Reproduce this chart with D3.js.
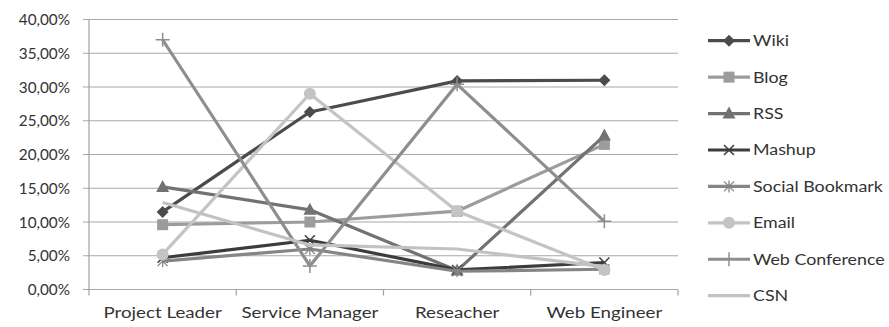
<!DOCTYPE html>
<html>
<head>
<meta charset="utf-8">
<script src="https://cdn.jsdelivr.net/npm/d3@7"></script>
<style>
  html, body { margin: 0; padding: 0; background: #fff; }
  svg { display: block; }
  text { font-family: Lato, "Open Sans", sans-serif; fill: #333; }
</style>
</head>
<body>
<svg id="chart" width="889" height="327"></svg>
<script>
// Share of each tool per role (fractions)
const categories = ["Project Leader", "Service Manager", "Reseacher", "Web Engineer"];
const seriesNames = ["Wiki", "Blog", "RSS", "Mashup", "Social Bookmark", "Email", "Web Conference", "CSN"];
const wiki           = [0.115, 0.263, 0.309, 0.310];
const blog           = [0.096, 0.100, 0.116, 0.215];
const rss            = [0.152, 0.118, 0.028, 0.228];
const mashup         = [0.047, 0.073, 0.029, 0.040];
const socialBookmark = [0.042, 0.060, 0.027, 0.030];
const email          = [0.052, 0.290, 0.116, 0.029];
const webConference  = [0.370, 0.035, 0.304, 0.101];
const csn            = [0.129, 0.066, 0.060, 0.034];
const yTicks = [0, 0.05, 0.10, 0.15, 0.20, 0.25, 0.30, 0.35, 0.40];

const seriesValues = [wiki, blog, rss, mashup, socialBookmark, email, webConference, csn];
const colors  = ["#4b4b4b", "#9c9c9c", "#727272", "#3c3c3c", "#858585", "#c4c4c4", "#8e8e8e", "#c2c2c2"];
const markers = ["diamond", "square", "triangle", "x", "asterisk", "circle", "plus", "none"];

const fontSize = 15;

const svg = d3.select("#chart");
const plotLeft = 89, plotRight = 678, plotTop = 19.5, plotBottom = 289.5;

const x = d3.scalePoint().domain(categories).range([plotLeft, plotRight]).padding(0.5);
const bandEdges = d3.scaleLinear().domain([0, categories.length]).range([plotLeft, plotRight]);
const y = d3.scaleLinear().domain([0, 0.4]).range([plotBottom, plotTop]);

const pct = d3.formatLocale({ decimal: ",", thousands: ".", grouping: [3], currency: ["", "€"] }).format(".2%");

// horizontal gridlines with short outer ticks
const grid = svg.append("g");
yTicks.forEach(t => {
  grid.append("line")
    .attr("x1", plotLeft - 6).attr("x2", plotRight)
    .attr("y1", y(t)).attr("y2", y(t))
    .attr("stroke", "#a8a8a8").attr("stroke-width", 1.2);
});
// value axis line
grid.append("line").attr("x1", plotLeft).attr("x2", plotLeft).attr("y1", plotTop).attr("y2", plotBottom)
  .attr("stroke", "#a0a0a0").attr("stroke-width", 1.2);
// category tick marks at band edges
d3.range(categories.length + 1).forEach(i => {
  grid.append("line")
    .attr("x1", bandEdges(i)).attr("x2", bandEdges(i))
    .attr("y1", plotBottom).attr("y2", plotBottom + 6)
    .attr("stroke", "#a0a0a0").attr("stroke-width", 1.2);
});

// labels are drawn with a slight horizontal stretch
function stretchedText(parent, tx, ty, str, anchor, stretch) {
  return parent.append("text")
    .attr("transform", `translate(${tx},${ty}) scale(${stretch},1)`)
    .attr("text-anchor", anchor)
    .attr("font-size", fontSize)
    .text(str);
}

// y labels
yTicks.forEach(t => stretchedText(svg, 70, y(t) + 5.5, pct(t), "end", 1.02));
// x labels
categories.forEach(c => stretchedText(svg, x(c), 318, c, "middle", 1.25));

function drawMarker(g, type, cx, cy, color) {
  const m = g.append("g").attr("transform", `translate(${cx},${cy})`);
  switch (type) {
    case "diamond":
      m.append("path").attr("d", "M0,-6L6,0L0,6L-6,0Z").attr("fill", color); break;
    case "square":
      m.append("rect").attr("x", -5.5).attr("y", -5.5).attr("width", 11).attr("height", 11).attr("fill", color); break;
    case "triangle":
      m.append("path").attr("d", "M0,-7L6.5,5L-6.5,5Z").attr("fill", color); break;
    case "circle":
      m.append("circle").attr("r", 6).attr("fill", color); break;
    case "x":
      m.append("path").attr("d", "M-5,-5L5,5M5,-5L-5,5").attr("stroke", color).attr("stroke-width", 1.5).attr("fill", "none"); break;
    case "asterisk":
      m.append("path").attr("d", "M-5,-5L5,5M5,-5L-5,5M0,-6L0,6").attr("stroke", color).attr("stroke-width", 1.3).attr("fill", "none"); break;
    case "plus":
      m.append("path").attr("d", "M-7,0L7,0M0,-7L0,7").attr("stroke", color).attr("stroke-width", 1.5).attr("fill", "none"); break;
  }
}

// series lines and markers
const line = d3.line().x((d, i) => x(categories[i])).y(d => y(d));
seriesValues.forEach((vals, s) => {
  const g = svg.append("g");
  g.append("path").datum(vals).attr("d", line)
    .attr("fill", "none").attr("stroke", colors[s]).attr("stroke-width", 3.2)
    .attr("stroke-linejoin", "round");
  vals.forEach((v, i) => drawMarker(g, markers[s], x(categories[i]), y(v), colors[s]));
});

// legend
const legend = svg.append("g");
const legendY = d3.scaleLinear().domain([0, seriesNames.length - 1]).range([40.7, 295.7]);
seriesNames.forEach((name, s) => {
  const ly = legendY(s);
  legend.append("line").attr("x1", 708).attr("x2", 750).attr("y1", ly).attr("y2", ly)
    .attr("stroke", colors[s]).attr("stroke-width", 3.2);
  drawMarker(legend, markers[s], 729, ly, colors[s]);
  stretchedText(legend, 753, ly + 5.5, name, "start", 1.19);
});
</script>
</body>
</html>
